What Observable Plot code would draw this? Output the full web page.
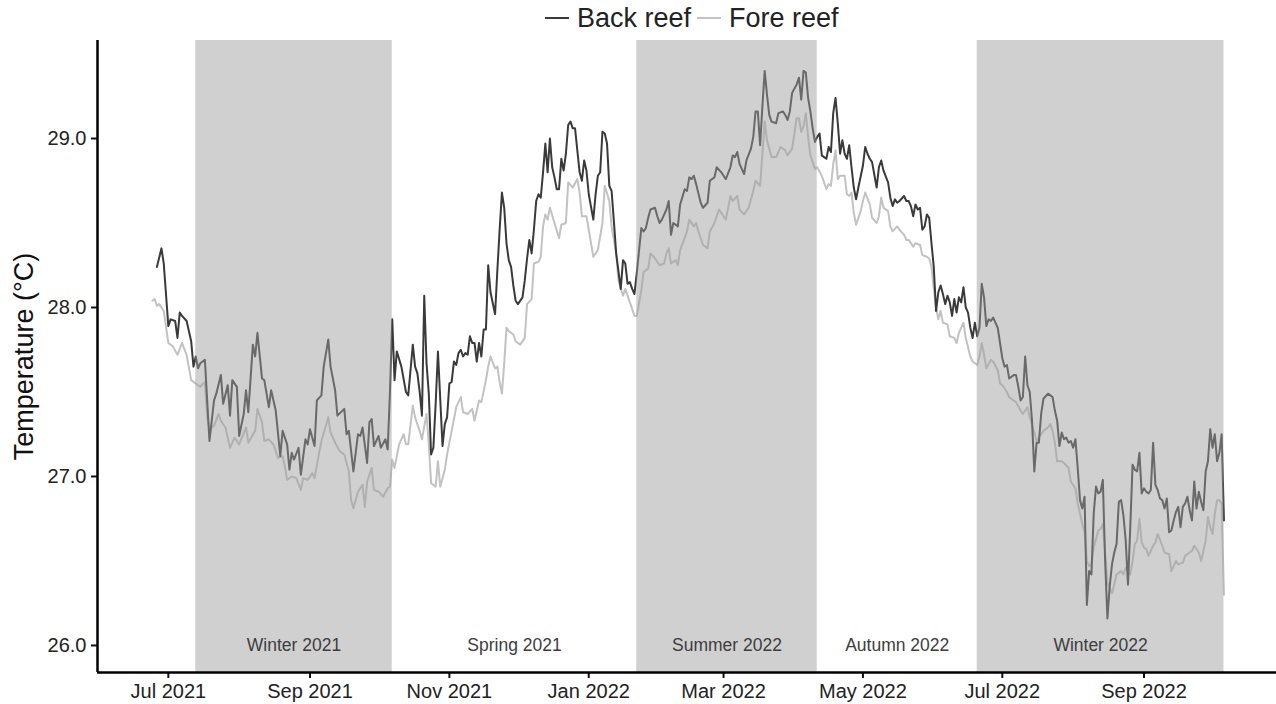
<!DOCTYPE html>
<html>
<head>
<meta charset="utf-8">
<script src="https://cdn.jsdelivr.net/npm/d3@7"></script>
<script src="https://cdn.jsdelivr.net/npm/@observablehq/plot@0.6"></script>
<style>
  html, body { margin: 0; padding: 0; background: #fff; }
  body { font-family: "Liberation Sans", Arial, sans-serif; width: 1276px; height: 704px; overflow: hidden; }
  #legend { position: relative; height: 36px; }
  #legend .row { position: absolute; left: 545px; top: 0; height: 36px; display: flex; align-items: center; font-size: 27px; color: #222; }
  #legend .key { display: inline-block; width: 24px; height: 2.2px; margin-right: 8px; }
  #legend .item { display: flex; align-items: center; margin-right: 6px; }
</style>
</head>
<body>
<div id="legend"><div class="row"></div></div>
<div id="chart"></div>
<script>
// ---- data (day offsets from baseDate, temperature °C) ----
const baseDate = "2021-07-01";
const seriesNames = ["Back reef", "Fore reef"];
const seriesColors = ["#3a3a3a", "#c2c2c2"];

const backReef = [[-5,28.24],[-3,28.35],[-2,28.26],[0,27.89],[1,27.93],[3,27.92],[4,27.82],[5,27.97],[6,27.95],[8,27.92],[10,27.80],[11,27.65],[12,27.71],[13,27.64],[14,27.67],[16,27.69],[18,27.21],[20,27.45],[21,27.49],[23,27.60],[24,27.43],[26,27.54],[27,27.36],[28,27.57],[30,27.53],[31,27.24],[33,27.37],[34,27.51],[35,27.38],[37,27.78],[38,27.71],[39,27.85],[41,27.58],[42,27.57],[44,27.41],[45,27.51],[47,27.39],[49,27.12],[50,27.27],[52,27.19],[53,27.04],[54,27.14],[55,27.10],[57,27.17],[58,27.01],[60,27.22],[61,27.19],[62,27.28],[64,27.18],[65,27.45],[67,27.48],[68,27.65],[70,27.81],[71,27.65],[73,27.51],[74,27.36],[77,27.40],[78,27.25],[79,27.27],[81,27.03],[83,27.25],[84,27.24],[85,27.29],[87,27.08],[88,27.32],[89,27.34],[90,27.18],[92,27.24],[93,27.17],[95,27.22],[96,27.16],[97,27.50],[98,27.93],[99,27.57],[100,27.74],[102,27.65],[104,27.50],[105,27.48],[107,27.78],[108,27.65],[109,27.61],[110,27.50],[111,27.36],[112,28.07],[113,27.67],[114,27.49],[115,27.13],[116,27.17],[117,27.43],[118,27.74],[120,27.18],[121,27.31],[122,27.35],[123,27.55],[124,27.56],[125,27.68],[126,27.66],[127,27.73],[128,27.75],[129,27.71],[130,27.73],[131,27.72],[132,27.83],[133,27.79],[134,27.79],[135,27.68],[136,27.79],[137,27.71],[138,27.87],[139,27.87],[140,28.25],[141,28.09],[143,27.96],[144,28.22],[145,28.46],[146,28.68],[147,28.59],[148,28.38],[149,28.28],[150,28.24],[151,28.13],[152,28.04],[153,28.02],[155,28.06],[156,28.16],[157,28.29],[158,28.40],[159,28.32],[160,28.46],[161,28.63],[162,28.67],[163,28.65],[164,28.80],[165,28.97],[166,28.80],[167,29.00],[168,28.83],[169,28.77],[170,28.70],[171,28.70],[172,28.88],[173,28.81],[174,28.91],[175,29.08],[176,29.10],[177,29.06],[178,29.06],[179,28.93],[180,28.80],[181,28.75],[182,28.87],[183,28.81],[184,28.67],[186,28.52],[187,28.67],[188,28.78],[189,28.80],[190,29.04],[191,29.03],[192,28.97],[193,28.72],[194,28.69],[195,28.51],[196,28.32],[198,28.11],[199,28.28],[200,28.26],[201,28.14],[202,28.15],[203,28.11],[204,28.08],[205,28.20],[207,28.47],[208,28.45],[209,28.47],[210,28.53],[211,28.58],[213,28.59],[214,28.54],[215,28.50],[216,28.52],[218,28.58],[219,28.63],[220,28.43],[221,28.50],[223,28.48],[224,28.61],[226,28.70],[227,28.69],[228,28.77],[229,28.76],[230,28.78],[231,28.73],[233,28.62],[234,28.59],[236,28.62],[237,28.75],[239,28.77],[240,28.83],[242,28.80],[243,28.78],[244,28.76],[246,28.83],[247,28.90],[248,28.89],[249,28.92],[250,28.85],[252,28.79],[253,28.87],[255,28.94],[256,29.01],[257,29.16],[258,29.16],[259,28.96],[260,29.19],[261,29.40],[262,29.26],[263,29.14],[264,29.10],[266,29.09],[267,29.15],[269,29.16],[270,29.14],[271,29.11],[272,29.16],[273,29.27],[275,29.32],[276,29.36],[277,29.23],[278,29.40],[279,29.39],[280,29.24],[281,29.16],[282,29.06],[283,28.98],[284,29.01],[285,29.03],[286,28.90],[287,28.89],[288,28.88],[289,28.95],[290,28.92],[291,29.15],[292,29.24],[293,29.09],[294,28.91],[295,28.99],[296,28.91],[297,28.88],[298,28.96],[299,28.83],[300,28.71],[301,28.64],[302,28.71],[304,28.84],[305,28.95],[306,28.91],[307,28.88],[308,28.86],[310,28.71],[311,28.83],[312,28.87],[313,28.81],[315,28.74],[316,28.65],[317,28.60],[318,28.64],[319,28.62],[320,28.63],[322,28.66],[323,28.63],[324,28.63],[325,28.60],[326,28.54],[327,28.61],[328,28.58],[329,28.59],[330,28.46],[331,28.48],[332,28.55],[333,28.53],[334,28.38],[335,28.24],[336,27.98],[337,28.09],[338,28.13],[339,28.08],[340,28.02],[341,28.07],[342,28.03],[343,27.95],[344,28.05],[345,27.97],[346,28.06],[347,28.03],[348,28.12],[349,28.00],[350,27.97],[351,27.88],[352,27.82],[353,27.91],[354,27.83],[355,27.88],[356,28.14],[357,28.06],[358,27.89],[359,27.93],[360,27.92],[361,27.94],[363,27.88],[364,27.79],[365,27.70],[366,27.65],[367,27.66],[368,27.58],[370,27.60],[371,27.60],[372,27.53],[373,27.45],[374,27.47],[375,27.71],[376,27.54],[377,27.50],[378,27.33],[379,27.03],[380,27.20],[381,27.20],[382,27.37],[383,27.46],[385,27.49],[386,27.48],[387,27.47],[388,27.39],[389,27.33],[390,27.18],[391,27.26],[392,27.22],[393,27.23],[394,27.20],[395,27.21],[396,27.17],[397,27.22],[398,27.05],[399,26.86],[400,26.81],[401,26.88],[402,26.24],[403,26.44],[404,26.42],[405,26.78],[406,26.94],[407,26.90],[408,26.91],[409,26.98],[410,26.50],[411,26.16],[412,26.35],[413,26.48],[414,26.55],[415,26.60],[416,26.85],[417,26.86],[418,26.77],[419,26.62],[420,26.36],[421,26.70],[422,27.07],[423,27.04],[424,27.03],[425,27.14],[426,26.90],[427,26.93],[428,26.91],[429,26.90],[430,26.92],[431,27.20],[432,26.95],[433,26.92],[434,26.87],[435,26.86],[436,26.81],[437,26.87],[438,26.67],[439,26.68],[440,26.74],[441,26.79],[442,26.82],[443,26.70],[444,26.82],[445,26.84],[446,26.88],[447,26.80],[448,26.74],[449,26.97],[450,26.81],[451,26.91],[452,26.85],[453,26.80],[454,27.03],[455,27.09],[456,27.28],[457,27.17],[458,27.25],[459,27.09],[460,27.14],[461,27.25],[462,26.74]];

const foreReef = [[-7,28.04],[-6,28.05],[-5,28.01],[-4,28.02],[-2,27.98],[0,27.79],[2,27.77],[4,27.72],[6,27.79],[8,27.72],[10,27.57],[13,27.54],[14,27.53],[16,27.56],[17,27.35],[18,27.28],[20,27.30],[22,27.37],[23,27.33],[25,27.29],[27,27.17],[29,27.23],[31,27.19],[34,27.29],[35,27.20],[38,27.27],[39,27.40],[41,27.32],[42,27.21],[44,27.22],[46,27.19],[48,27.11],[50,27.12],[51,27.06],[52,26.98],[54,27.00],[56,26.99],[58,26.92],[59,26.99],[61,26.98],[63,27.02],[64,26.99],[66,27.14],[67,27.21],[70,27.35],[71,27.26],[73,27.20],[75,27.15],[77,27.13],[79,27.03],[80,26.86],[81,26.81],[83,26.91],[85,26.95],[86,26.82],[87,26.97],[89,27.05],[90,26.92],[92,26.91],[94,26.88],[96,26.93],[97,26.94],[98,27.10],[99,27.05],[101,27.19],[103,27.25],[104,27.19],[105,27.19],[107,27.42],[108,27.35],[110,27.27],[111,27.22],[113,27.37],[114,27.19],[115,26.96],[117,26.94],[118,27.09],[119,26.94],[121,27.04],[122,27.13],[124,27.27],[126,27.41],[128,27.47],[129,27.38],[131,27.37],[133,27.40],[134,27.33],[136,27.45],[137,27.44],[139,27.57],[140,27.65],[141,27.71],[143,27.64],[144,27.65],[145,27.56],[146,27.49],[147,27.67],[148,27.88],[149,27.86],[151,27.84],[152,27.80],[154,27.78],[156,27.82],[157,28.02],[159,28.05],[160,28.26],[162,28.27],[163,28.30],[164,28.48],[165,28.55],[166,28.52],[167,28.59],[169,28.50],[171,28.41],[172,28.49],[174,28.50],[175,28.74],[177,28.71],[179,28.76],[180,28.68],[181,28.54],[183,28.54],[184,28.46],[186,28.30],[188,28.34],[190,28.50],[191,28.72],[193,28.63],[194,28.48],[196,28.32],[197,28.16],[199,28.07],[200,28.11],[202,28.03],[203,27.99],[204,27.95],[205,27.95],[207,28.10],[208,28.21],[210,28.23],[211,28.32],[213,28.29],[215,28.25],[217,28.26],[218,28.32],[219,28.35],[220,28.26],[222,28.28],[223,28.25],[224,28.34],[227,28.45],[228,28.52],[230,28.48],[231,28.50],[232,28.45],[234,28.37],[236,28.35],[237,28.45],[239,28.50],[241,28.58],[242,28.56],[244,28.52],[246,28.66],[247,28.63],[249,28.66],[250,28.58],[252,28.55],[254,28.59],[256,28.69],[257,28.75],[259,28.72],[260,28.91],[261,29.10],[262,28.99],[264,28.89],[266,28.89],[268,28.95],[270,28.93],[271,28.90],[273,28.94],[275,29.12],[276,29.12],[277,29.04],[278,29.07],[279,29.15],[280,29.01],[281,28.90],[283,28.82],[284,28.83],[286,28.78],[287,28.74],[288,28.70],[289,28.73],[290,28.72],[291,28.85],[292,28.93],[293,28.76],[294,28.78],[296,28.78],[297,28.67],[298,28.66],[299,28.68],[300,28.56],[301,28.49],[303,28.57],[304,28.63],[305,28.68],[307,28.61],[308,28.53],[310,28.50],[311,28.54],[312,28.65],[313,28.59],[315,28.57],[316,28.48],[317,28.45],[319,28.48],[320,28.46],[322,28.43],[323,28.40],[324,28.40],[326,28.36],[327,28.38],[329,28.37],[330,28.31],[332,28.30],[333,28.29],[334,28.24],[335,28.11],[336,28.00],[337,27.93],[338,27.98],[339,27.91],[341,27.90],[342,27.83],[344,27.82],[345,27.79],[346,27.85],[348,27.91],[349,27.82],[351,27.71],[352,27.68],[354,27.66],[355,27.71],[356,27.79],[357,27.72],[358,27.64],[360,27.69],[361,27.68],[363,27.63],[364,27.55],[365,27.54],[367,27.50],[368,27.47],[370,27.45],[371,27.44],[373,27.39],[374,27.37],[376,27.41],[377,27.35],[379,27.26],[380,27.21],[382,27.25],[383,27.27],[385,27.29],[386,27.31],[387,27.27],[388,27.20],[389,27.09],[391,27.09],[392,27.08],[394,27.05],[395,26.97],[397,26.93],[398,26.84],[400,26.72],[401,26.67],[402,26.50],[403,26.47],[404,26.48],[405,26.58],[407,26.68],[408,26.69],[409,26.72],[410,26.55],[411,26.37],[413,26.31],[414,26.36],[415,26.42],[417,26.44],[418,26.42],[419,26.46],[421,26.42],[422,26.50],[423,26.60],[424,26.62],[425,26.75],[426,26.61],[427,26.58],[428,26.57],[429,26.53],[431,26.59],[432,26.61],[433,26.66],[435,26.59],[436,26.55],[438,26.54],[439,26.44],[441,26.50],[442,26.48],[444,26.49],[445,26.53],[447,26.55],[448,26.56],[449,26.59],[451,26.55],[452,26.50],[454,26.62],[455,26.76],[456,26.70],[457,26.66],[458,26.78],[459,26.86],[460,26.86],[461,26.84],[462,26.30]];

const seasonNames  = ["Winter 2021", "Spring 2021", "Summer 2022", "Autumn 2022", "Winter 2022"];
const seasonStart  = ["2021-07-13", "2021-10-07", "2022-01-22", "2022-04-11", "2022-06-20"];
const seasonEnd    = ["2021-10-07", "2022-01-22", "2022-04-11", "2022-06-20", "2022-10-06"];
const seasonShaded = [true, false, true, false, true];

const xTicks = ["2021-07-01", "2021-09-01", "2021-11-01", "2022-01-01", "2022-03-01", "2022-05-01", "2022-07-01", "2022-09-01"];
const yTicks = [26, 27, 28, 29];
const xDomain = ["2021-05-31", "2022-10-29"];
const yDomain = [25.84, 29.58];
const yTitle = "Temperature (°C)";

// ---- build tables ----
const base = new Date(baseDate);
const toDate = d => d3.utcDay.offset(base, d);
const rows = [
  ...foreReef.map(([d, t]) => ({date: toDate(d), temp: t, site: seriesNames[1]})),
  ...backReef.map(([d, t]) => ({date: toDate(d), temp: t, site: seriesNames[0]}))
];
const seasons = seasonNames.map((name, i) => {
  const s = new Date(seasonStart[i]), e = new Date(seasonEnd[i]);
  return {name, start: s, end: e, mid: new Date((+s + +e) / 2), shaded: seasonShaded[i]};
});

// ---- legend ----
const row = document.querySelector("#legend .row");
seriesNames.forEach((n, i) => {
  const item = document.createElement("span");
  item.className = "item";
  const key = document.createElement("span");
  key.className = "key";
  key.style.background = seriesColors[i];
  const label = document.createElement("span");
  label.textContent = n;
  item.append(key, label);
  row.append(item);
});

// ---- chart ----
const chart = Plot.plot({
  width: 1276,
  height: 668,
  marginLeft: 97,
  marginRight: 0,
  marginTop: 4,
  marginBottom: 32,
  style: {fontFamily: "'Liberation Sans', Arial, sans-serif", fontSize: "20px", color: "#222", background: "#fff", overflow: "visible"},
  x: {type: "utc", domain: xDomain.map(d => new Date(d))},
  y: {domain: yDomain},
  color: {domain: seriesNames, range: seriesColors},
  marks: [
    Plot.line(rows, {x: "date", y: "temp", z: "site", stroke: "site", strokeWidth: 2, strokeLinejoin: "round"}),
    Plot.rect(seasons.filter(s => s.shaded), {x1: "start", x2: "end", fill: "#9d9d9d", fillOpacity: 0.48}),
    Plot.text(seasons, {x: "mid", y: yTicks[0], text: "name", fill: "#3d3d3d", fontSize: 17.5}),
    Plot.axisX(xTicks.map(d => new Date(d)), {tickFormat: d3.utcFormat("%b %Y"), tickSize: 6, tickPadding: 5, strokeWidth: 2, stroke: "#111", label: null}),
    Plot.axisY(yTicks, {tickFormat: d3.format(".1f"), tickSize: 6, tickPadding: 5, strokeWidth: 2, stroke: "#111", label: null}),
    Plot.ruleX([new Date(xDomain[0])], {stroke: "#000", strokeWidth: 2.5}),
    Plot.ruleY([yDomain[0]], {stroke: "#000", strokeWidth: 2.5}),
    Plot.text([yTitle], {frameAnchor: "left", dx: -73, rotate: -90, textAnchor: "middle", fontSize: 27, fill: "#111"})
  ]
});
document.getElementById("chart").append(chart);
</script>
</body>
</html>
